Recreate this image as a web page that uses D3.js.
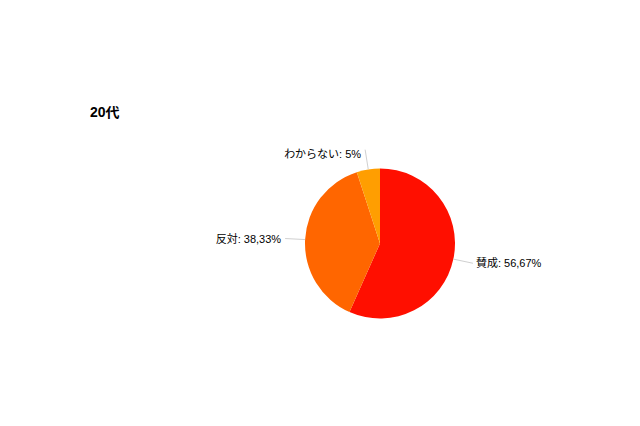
<!DOCTYPE html>
<html>
<head>
<meta charset="utf-8">
<script src="https://cdn.jsdelivr.net/npm/d3@7"></script>
<style>
  body { margin: 0; background: #fff; }
  .labelText { font-family: "Liberation Sans", Arial, "Noto Sans CJK JP", sans-serif; font-size: 11px; fill: #000; }
  .title { font-family: "Liberation Sans", Arial, "Noto Sans CJK JP", sans-serif; font-size: 14px; font-weight: bold; fill: #000; }
</style>
</head>
<body>
<svg id="svg_pie" width="640" height="426"></svg>
<script>
const categories = ['賛成', '反対', 'わからない'];
const values = [56.67, 38.33, 5];
const valueLabels = ['56,67%', '38,33%', '5%'];
const colors = ['#ff0f00', '#ff6600', '#ff9e01'];

const width = 640;
const height = 426;
const cx = 380;
const cy = 243.5;
const radius = 75;

const data = categories.map((c, i) => ({ name: c, value: values[i], label: valueLabels[i] }));

const svg = d3.select('#svg_pie');

svg.append('rect')
  .attr('width', width)
  .attr('height', height)
  .attr('fill', '#fff');

svg.append('text')
  .text('20代')
  .attr('x', 90)
  .attr('y', 117)
  .attr('class', 'title');

const color = d3.scaleOrdinal()
  .domain(categories)
  .range(colors);

const pie = d3.pie()
  .value((d) => d.value)
  .sort(null);

const arc = d3.arc()
  .innerRadius(0)
  .outerRadius(radius);

const arcs = pie(data);

const g = svg.append('g')
  .attr('transform', `translate(${cx}, ${cy})`);

g.selectAll('path')
  .data(arcs)
  .enter()
  .append('path')
  .attr('d', arc)
  .attr('fill', (d) => color(d.data.name));

// point on a circle at the middle angle of a slice
const pointAt = (d, r) => {
  const a = (d.startAngle + d.endAngle) / 2;
  return [r * Math.sin(a), -r * Math.cos(a)];
};

g.selectAll('polyline')
  .data(arcs)
  .enter()
  .append('polyline')
  .attr('points', (d) => [pointAt(d, radius), pointAt(d, radius + 20)].map((p) => p.join(',')).join(' '))
  .attr('fill', 'none')
  .attr('stroke', '#d0d0d0')
  .attr('stroke-width', 1);

g.selectAll('text')
  .data(arcs)
  .enter()
  .append('text')
  .attr('class', 'labelText')
  .text((d) => `${d.data.name}: ${d.data.label}`)
  .attr('x', (d) => {
    const p = pointAt(d, radius + 20);
    return p[0] >= 0 ? p[0] + 3 : p[0] - 4;
  })
  .attr('y', (d) => {
    const p = pointAt(d, radius + 20);
    return p[1] < -60 ? p[1] + 8 : p[1] + 4;
  })
  .attr('text-anchor', (d) => pointAt(d, 1)[0] >= 0 ? 'start' : 'end');
</script>
</body>
</html>
